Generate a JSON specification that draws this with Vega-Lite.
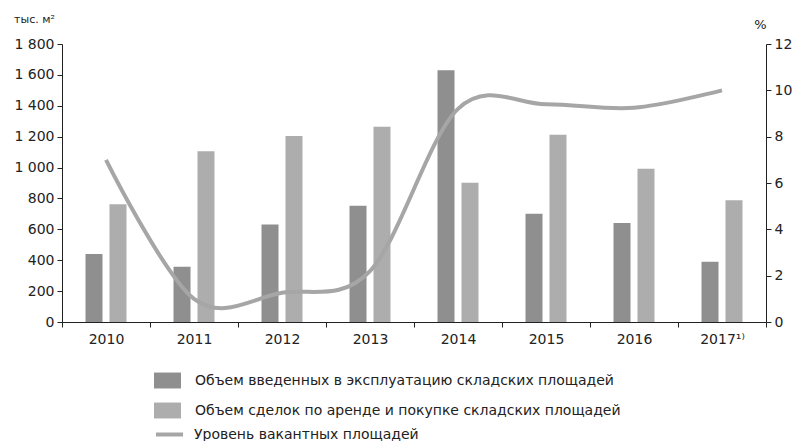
{
  "$schema": "https://vega.github.io/schema/vega-lite/v6.json",
  "width": 704,
  "height": 278,
  "autosize": {"type": "none"},
  "padding": {"left": 62, "top": 44, "right": 26, "bottom": 119},
  "background": "white",
  "config": {
    "view": {"stroke": null},
    "font": "DejaVu Sans",
    "axis": {"labelFont": "DejaVu Sans", "labelFontSize": 14, "labelColor": "#222", "domainColor": "#222", "tickColor": "#222", "grid": false},
    "legend": {"labelFont": "DejaVu Sans", "labelFontSize": 14, "labelColor": "#222", "padding": 0}
  },
  "datasets": {
    "bars": [
      {"year": "2010", "series": "Объем введенных в эксплуатацию складских площадей", "value": 440},
      {"year": "2010", "series": "Объем сделок по аренде и покупке складских площадей", "value": 762},
      {"year": "2011", "series": "Объем введенных в эксплуатацию складских площадей", "value": 358},
      {"year": "2011", "series": "Объем сделок по аренде и покупке складских площадей", "value": 1106},
      {"year": "2012", "series": "Объем введенных в эксплуатацию складских площадей", "value": 632},
      {"year": "2012", "series": "Объем сделок по аренде и покупке складских площадей", "value": 1205},
      {"year": "2013", "series": "Объем введенных в эксплуатацию складских площадей", "value": 753},
      {"year": "2013", "series": "Объем сделок по аренде и покупке складских площадей", "value": 1264},
      {"year": "2014", "series": "Объем введенных в эксплуатацию складских площадей", "value": 1630},
      {"year": "2014", "series": "Объем сделок по аренде и покупке складских площадей", "value": 901},
      {"year": "2015", "series": "Объем введенных в эксплуатацию складских площадей", "value": 701},
      {"year": "2015", "series": "Объем сделок по аренде и покупке складских площадей", "value": 1212},
      {"year": "2016", "series": "Объем введенных в эксплуатацию складских площадей", "value": 641},
      {"year": "2016", "series": "Объем сделок по аренде и покупке складских площадей", "value": 992},
      {"year": "2017¹⁾", "series": "Объем введенных в эксплуатацию складских площадей", "value": 390},
      {"year": "2017¹⁾", "series": "Объем сделок по аренде и покупке складских площадей", "value": 789}
    ],
    "vacancy": [
      {"year": "2010", "rate": 7.0},
      {"year": "2011", "rate": 1.0},
      {"year": "2012", "rate": 1.26},
      {"year": "2013", "rate": 2.2},
      {"year": "2014", "rate": 9.2},
      {"year": "2015", "rate": 9.4},
      {"year": "2016", "rate": 9.25},
      {"year": "2017¹⁾", "rate": 10.0}
    ]
  },
  "encoding": {
    "x": {
      "field": "year",
      "type": "nominal",
      "sort": null,
      "scale": {"paddingInner": 0, "paddingOuter": 0},
      "axis": {"title": null, "labelAngle": 0, "tickBand": "extent", "tickSize": 5, "labelPadding": 5, "domainWidth": 1}
    }
  },
  "layer": [
    {
      "data": {"name": "bars"},
      "mark": {"type": "bar"},
      "encoding": {
        "xOffset": {
          "field": "series",
          "type": "nominal",
          "scale": {"domain": ["Объем введенных в эксплуатацию складских площадей", "Объем сделок по аренде и покупке складских площадей"], "paddingInner": 0.29, "paddingOuter": 0.98}
        },
        "y": {
          "field": "value",
          "type": "quantitative",
          "scale": {"domain": [0, 1800], "nice": false},
          "axis": {
            "values": [0, 200, 400, 600, 800, 1000, 1200, 1400, 1600, 1800],
            "labelExpr": "replace(format(datum.value, ','), ',', ' ')",
            "tickSize": 5,
            "labelPadding": 3,
            "title": "тыс. м²",
            "titleAngle": 0,
            "titleAlign": "center",
            "titleBaseline": "middle",
            "titleX": -28,
            "titleY": -25,
            "titleFontSize": 11,
            "titleFontWeight": "normal",
            "titleColor": "#222"
          }
        },
        "color": {
          "field": "series",
          "type": "nominal",
          "scale": {"domain": ["Объем введенных в эксплуатацию складских площадей", "Объем сделок по аренде и покупке складских площадей"], "range": ["#8f8f8f", "#adadad"]},
          "legend": {
            "title": null,
            "orient": "none",
            "legendX": 92,
            "legendY": 323,
            "direction": "vertical",
            "symbolType": "M-1,-0.59H1V0.59H-1Z",
            "symbolSize": 729,
            "symbolStrokeWidth": 0,
            "labelOffset": 14,
            "rowPadding": 8,
            "labelLimit": 600
          }
        }
      }
    },
    {
      "data": {"name": "vacancy"},
      "mark": {"type": "line", "interpolate": "cardinal", "strokeWidth": 4},
      "encoding": {
        "y": {
          "field": "rate",
          "type": "quantitative",
          "scale": {"domain": [0, 12], "nice": false},
          "axis": {
            "orient": "right",
            "values": [0, 2, 4, 6, 8, 10, 12],
            "tickSize": 5,
            "labelPadding": 3,
            "title": "%",
            "titleAngle": 0,
            "titleAlign": "center",
            "titleBaseline": "middle",
            "titleX": -6,
            "titleY": -20,
            "titleFontSize": 13,
            "titleFontWeight": "normal",
            "titleColor": "#222"
          }
        },
        "stroke": {
          "datum": "Уровень вакантных площадей",
          "type": "nominal",
          "scale": {"range": ["#a6a6a6"]},
          "legend": {
            "title": null,
            "orient": "none",
            "legendX": 92,
            "legendY": 375,
            "symbolType": "stroke",
            "symbolSize": 729,
            "symbolStrokeWidth": 4,
            "labelOffset": 9,
            "labelLimit": 600
          }
        }
      }
    }
  ],
  "resolve": {"scale": {"y": "independent"}}
}
